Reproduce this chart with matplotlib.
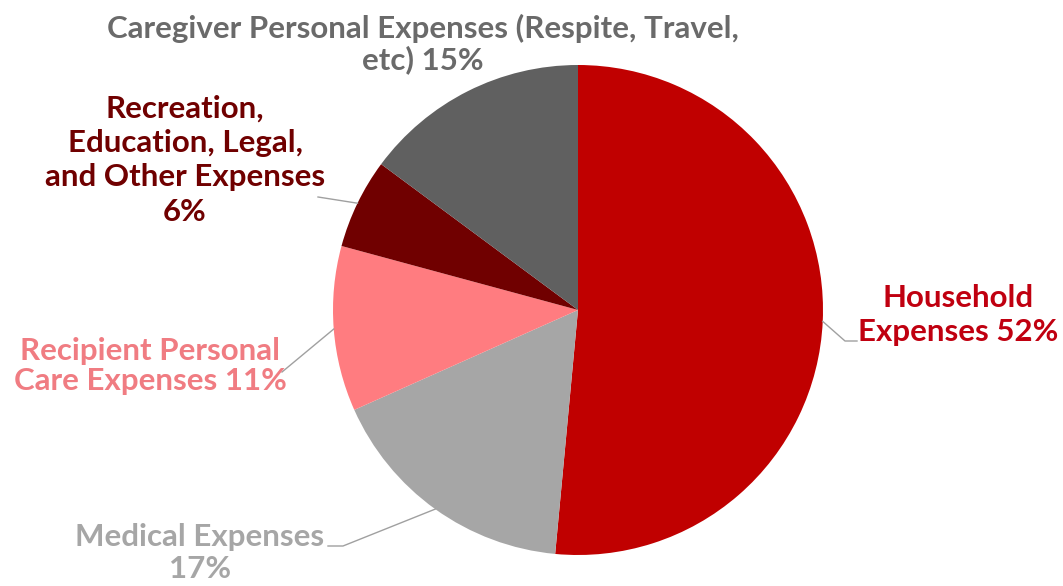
import numpy as np
import matplotlib
matplotlib.use('Agg')
import matplotlib.pyplot as plt

#------Dados do gráfico------#
categorias = ['Household Expenses', 'Medical Expenses', 'Recipient Personal Care Expenses',
              'Recreation, Education, Legal, and Other Expenses',
              'Caregiver Personal Expenses (Respite, Travel, etc)']
valores = [52, 17, 11, 6, 15]
rotulos = ['Household\nExpenses 52%',
           'Medical Expenses\n17%',
           'Recipient Personal\nCare Expenses 11%',
           'Recreation,\nEducation, Legal,\nand Other Expenses\n6%',
           'Caregiver Personal Expenses (Respite, Travel,\netc) 15%']
cores = ['#C00000', '#A6A6A6', '#FF7C80', '#700000', '#606060']
cores_texto = ['#C00010', '#A6A6A6', '#F07C82', '#700000', '#6A6A6A']

W, H = 1063, 586
centro = (578, H - 310)
raio = 245

fig = plt.figure(figsize=(W / 100, H / 100), dpi=100)
ax = fig.add_axes([0, 0, 1, 1])

wedges, _ = ax.pie(valores, colors=cores, startangle=90, counterclock=False,
                   center=centro, radius=raio, wedgeprops={'linewidth': 0})

# o pie redefine os limites, então ajusta depois
ax.set_xlim(0, W)
ax.set_ylim(0, H)
ax.set_aspect('equal')
ax.axis('off')

# posição dos rótulos (centro do texto) e do fim da linha guia, em pixels (y para baixo)
pos_texto = [(958, 315), (200, 553), (150, 366), (185, 160), (423, 44)]
espacamento = [1.27, 1.15, 1.12, 1.28, 1.07]
fim_linha = [[(845, 341), (857, 341)], [(343, 546), (328, 546)], [(282, 372)],
             [(318, 197)], None]

for w, txt, cor, pt, esp, fl in zip(wedges, rotulos, cores_texto, pos_texto, espacamento, fim_linha):
    ax.text(pt[0], H - pt[1], txt, ha='center', va='center', color=cor,
            fontsize=22.5, fontweight='bold', family='Lato', linespacing=esp)
    if fl is None:
        continue
    ang = np.deg2rad((w.theta1 + w.theta2) / 2)
    x0 = centro[0] + raio * np.cos(ang)
    y0 = centro[1] + raio * np.sin(ang)
    xs = [x0] + [p[0] for p in fl]
    ys = [y0] + [H - p[1] for p in fl]
    ax.plot(xs, ys, color='#A0A0A0', lw=1)

fig.savefig('out.png', dpi=100)
